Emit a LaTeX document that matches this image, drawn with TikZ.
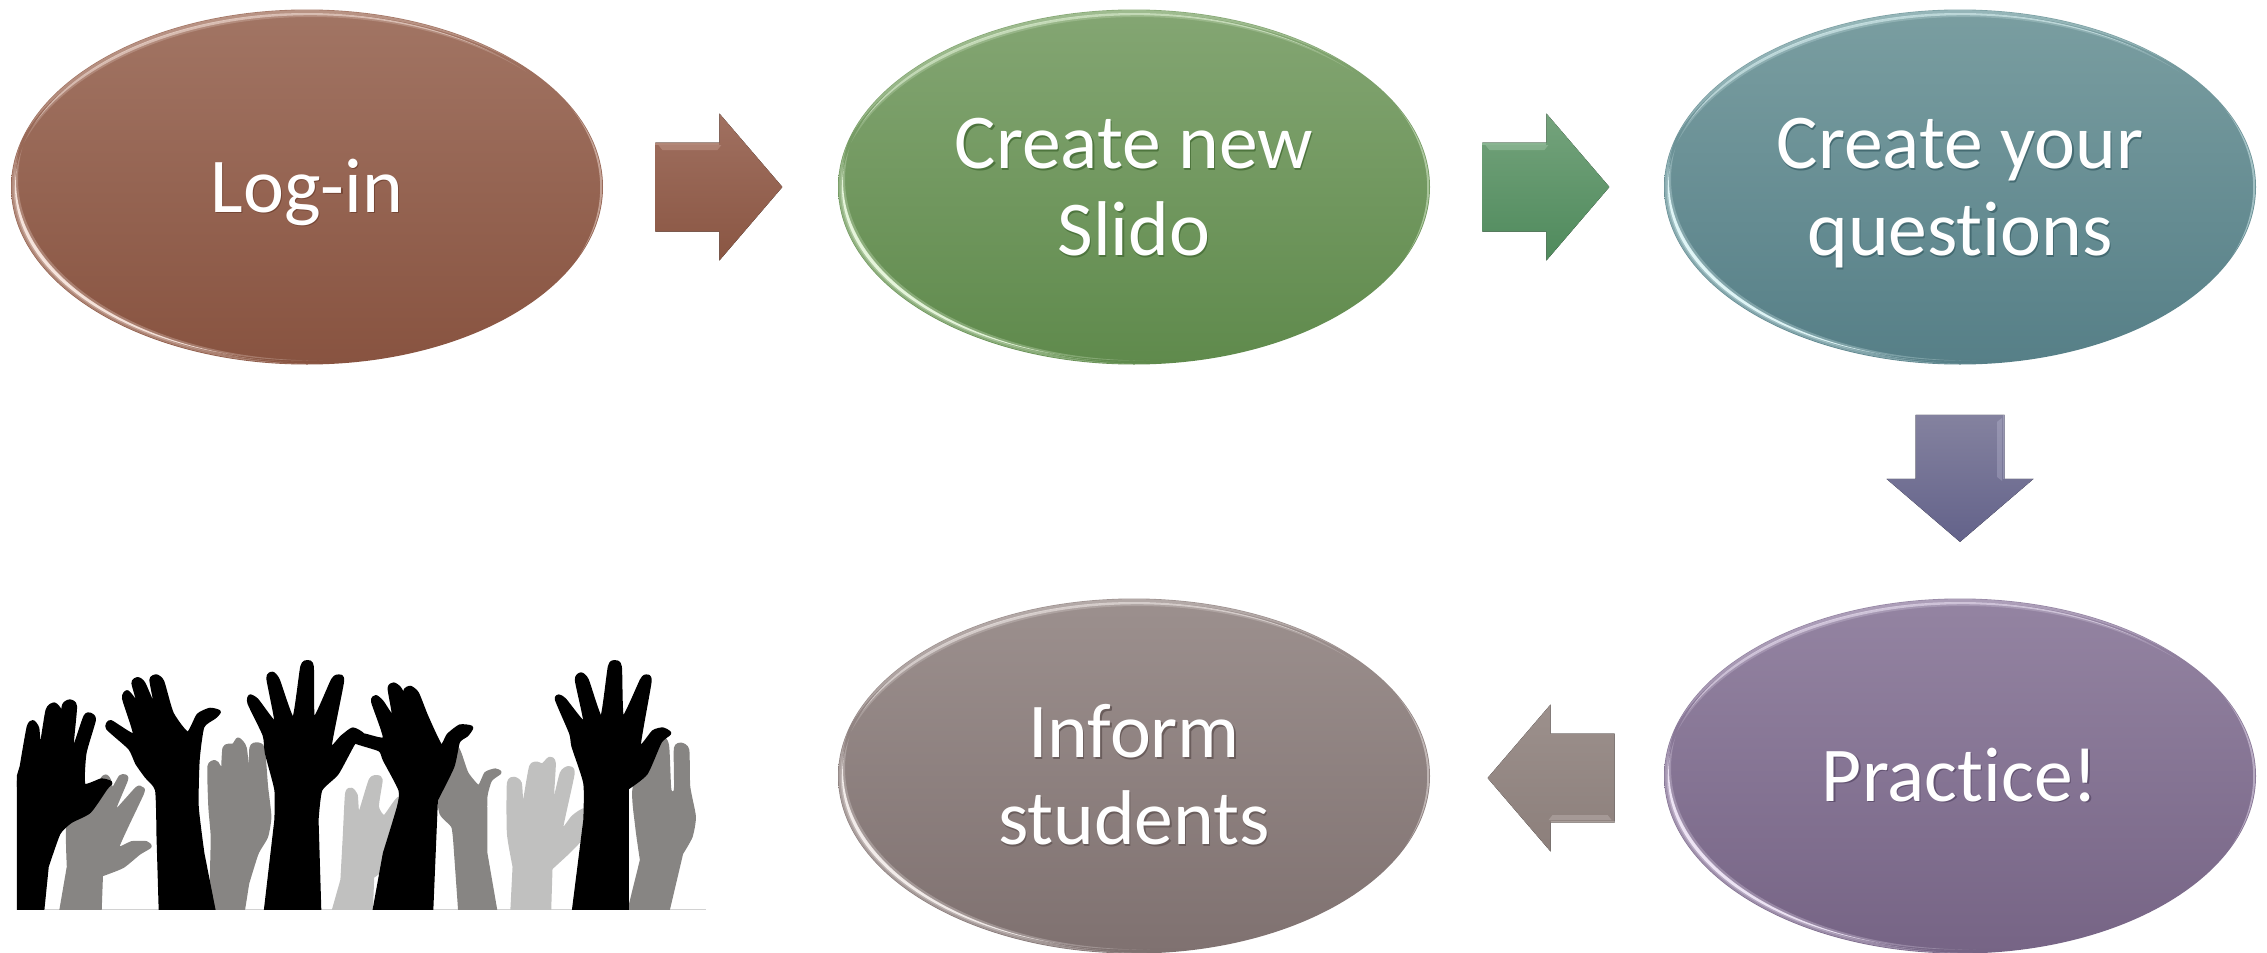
\documentclass[tikz,border=0pt]{standalone}
\usepackage{fontspec}
\setmainfont[Ligatures=NoCommon]{Carlito}
\usetikzlibrary{calc,shapes.geometric}
\definecolor{ATa}{HTML}{A27564}\definecolor{ABa}{HTML}{885340}\definecolor{ASa}{HTML}{6E4232}\definecolor{AHa}{HTML}{FDEDE6}
\definecolor{ATb}{HTML}{84A673}\definecolor{ABb}{HTML}{5F8A4C}\definecolor{ASb}{HTML}{476C38}\definecolor{AHb}{HTML}{EEFCE4}
\definecolor{ATc}{HTML}{7A9EA1}\definecolor{ABc}{HTML}{567F87}\definecolor{ASc}{HTML}{3E6269}\definecolor{AHc}{HTML}{E8FDFE}
\definecolor{ATd}{HTML}{9484A2}\definecolor{ABd}{HTML}{766485}\definecolor{ASd}{HTML}{5A4A68}\definecolor{AHd}{HTML}{F5ECFC}
\definecolor{ATe}{HTML}{9C908E}\definecolor{ABe}{HTML}{7F7170}\definecolor{ASe}{HTML}{615554}\definecolor{AHe}{HTML}{FAF4F2}
\definecolor{handgray}{HTML}{878583}\definecolor{handlight}{HTML}{C0C0BF}
\tikzset{
  x=0.5pt,y=-0.5pt,
  oval/.style={ellipse,inner sep=0pt,minimum width=296pt,minimum height=177.5pt,align=center,text=white,
    font=\fontsize{38.8}{43.5}\selectfont,top color=AT#1,bottom color=AB#1},
  hand/.style={fill=#1,draw=#1,line width=1.6pt,line join=round},
  fingers/.style={smooth,tension=0.35},
}
% text line with its soft drop shadow
\newcommand\stx[2]{\leavevmode\rule[-9.25pt]{0pt}{43.5pt}\rlap{\raisebox{-0.8pt}{\kern0.6pt\textcolor{AS#1!70!AB#1}{#2}}}#2}
% lit crescent along the rim of an oval: node, x and y offset, growth of the cut-out, inset, opacity, colour letter
\newcommand\rimlight[7]{%
  \begin{scope}
    \clip (#1.center) ellipse ({296-#5} and {177.5-#5});
    \fill[AH#7,opacity=#6,even odd rule] ($(#1.center)+(-320,-200)$) rectangle ($(#1.center)+(320,200)$)
      ($(#1.center)+(#2,#3)$) ellipse ({296-#5+#4} and {177.5-#5+#4});
  \end{scope}}
\newcommand\bevel[2]{%
  % lower left
  \rimlight{#1}{10}{-7}{7}{0.6}{0.28}{#2}
  \rimlight{#1}{9}{-6.5}{7}{2.5}{0.3}{#2}
  \rimlight{#1}{11}{-8}{8}{4}{0.25}{#2}
  \rimlight{#1}{9}{-6.5}{8}{4}{0.85}{#2}
  % top
  \rimlight{#1}{3.2}{12}{9}{0.6}{0.25}{#2}
  \rimlight{#1}{4}{14}{10}{3.5}{0.2}{#2}
  \rimlight{#1}{3.2}{12}{9.8}{3.5}{0.5}{#2}
  % right
  \rimlight{#1}{-12}{0.5}{10}{0.8}{0.45}{#2}
}
% block arrow: origin (middle of tail), rotation, colour letter
\newcommand\blockarrow[3]{%
  \begin{scope}[shift={(#1)},rotate=#2]
    \fill[top color=#3a,bottom color=#3b] (0,-44.5) -- (64,-44.5) -- (64,-73.5) -- (127,0) -- (64,73.5) -- (64,44.5) -- (0,44.5) -- cycle;
    \fill[#3h,opacity=.3] (0,-44.5) -- (64,-44.5) -- (64,-42.5) -- (0,-42.5) -- cycle;
    \fill[#3h,opacity=.25] (3,-42) -- (66,-42) -- (62,-37) -- (7,-37) -- cycle;
  \end{scope}}
\definecolor{Ga}{HTML}{A07060}\definecolor{Gb}{HTML}{8A5643}\definecolor{Gh}{HTML}{E8C8BC}
\definecolor{Ha}{HTML}{74A37C}\definecolor{Hb}{HTML}{4F8A5C}\definecolor{Hh}{HTML}{CDEBD2}
\definecolor{Ia}{HTML}{84829F}\definecolor{Ib}{HTML}{63628A}\definecolor{Ih}{HTML}{D5D5EA}
\definecolor{Ja}{HTML}{9C908C}\definecolor{Jb}{HTML}{8C7F7B}\definecolor{Jh}{HTML}{E5DDDB}
\begin{document}
\begin{tikzpicture}
\useasboundingbox (0,0) rectangle (2267,953);
% ovals
\node[oval=a] (login)   at (307,187)  {\stx{a}{Log-in}};
\node[oval=b] (create)  at (1134,187) {\stx{b}{Create new}\\\stx{b}{Slido}};
\node[oval=c] (quest)   at (1960,187) {\stx{c}{Create your}\\\stx{c}{questions}};
\node[oval=d] (prac)    at (1960,776) {\stx{d}{Practice!}};
\node[oval=e] (inform)  at (1134,776) {\stx{e}{Inform}\\\stx{e}{students}};
\bevel{login}{a}\bevel{create}{b}\bevel{quest}{c}\bevel{prac}{d}\bevel{inform}{e}
% arrows
\coordinate (a1) at ($(login.east)+(52,0)$);
\coordinate (a2) at ($(create.east)+(52,0)$);
\coordinate (a3) at ($(quest.south)+(0,50)$);
\coordinate (a4) at ($(prac.west)+(-49,2)$);
\blockarrow{a1}{0}{G}
\blockarrow{a2}{0}{H}
\blockarrow{a3}{-90}{I}
\blockarrow{a4}{180}{J}
% raised hands
\begin{scope}[shift={(0,620)},xscale=0.4717,yscale=0.3333]
\draw[gray!35,line width=0.5pt] (90,868) -- (1497,868);
\clip (36,0) rectangle (1500,868);
% grey hands
\filldraw[hand=handgray] (128,880) -- plot[fingers] coordinates {(145,740) (145,600) (190,580) (215,480) (225,468) (232,480) (238,510) (255,470) (265,468) (268,480) (240,580) (290,505) (300,505) (302,520) (250,680) (280,668) (310,668) (318,680) (295,700) (260,740) (215,765)} -- (212,880) -- cycle;
\filldraw[hand=handgray] (450,880) -- plot[fingers] coordinates {(448,780) (450,650) (445,560) (443,440) (455,425) (465,440) (470,520) (475,385) (495,375) (505,357) (520,385) (530,520) (532,385) (545,372) (558,385) (565,500) (572,590) (565,650) (545,700) (525,790)} -- (515,880) -- cycle;
\filldraw[hand=handgray] (975,880) -- plot[fingers] coordinates {(965,680) (960,620) (935,580) (930,500) (965,385) (975,400) (990,460) (1015,500) (1030,460) (1050,450) (1060,458) (1040,480) (1030,530) (1030,620) (1030,700)} -- (1052,880) -- cycle;
\filldraw[hand=handgray] (1332,880) -- plot[fingers] coordinates {(1360,720) (1350,620) (1345,500) (1400,360) (1415,375) (1420,510) (1432,510) (1432,385) (1445,373) (1458,390) (1460,500) (1472,590) (1465,650) (1445,700)} -- (1415,880) -- cycle;
% light hands
\filldraw[hand=handlight] (705,880) -- plot[fingers] coordinates {(725,780) (730,650) (735,520) (745,508) (755,525) (760,590) (785,480) (800,470) (808,480) (800,560) (815,590) (848,535) (848,700) (800,760) (790,770)} -- (787,880) -- cycle;
\filldraw[hand=handlight] (1085,880) -- plot[fingers] coordinates {(1090,740) (1078,640) (1078,490) (1090,475) (1103,490) (1108,570) (1125,440) (1140,430) (1150,435) (1165,415) (1175,430) (1170,570) (1190,460) (1205,443) (1215,460) (1190,630) (1215,590) (1240,570) (1240,640) (1210,690) (1168,745)} -- (1165,880) -- cycle;
% black hands
\filldraw[hand=black] (30,880) -- (30,510) -- plot[fingers] coordinates {(45,440) (60,320) (70,305) (80,325) (85,395) (100,270) (115,252) (127,270) (128,322) (135,255) (148,243) (160,260) (152,400) (180,290) (192,283) (200,300) (180,400) (178,495) (215,480) (235,488) (225,505) (190,575) (150,605) (125,640) (100,740)} -- (90,880) -- cycle;
\filldraw[hand=black] (340,880) -- plot[fingers] coordinates {(335,640) (332,510) (310,470) (290,430) (275,385) (228,325) (235,305) (285,345) (262,235) (270,215) (285,240) (300,280) (282,190) (292,176) (305,190) (332,275) (320,180) (332,168) (345,185) (365,280) (398,340) (420,285) (445,268) (465,275) (455,292) (430,320) (420,420) (418,560) (430,700)} -- (455,880) -- cycle;
\filldraw[hand=black] (562,880) -- plot[fingers] coordinates {(585,600) (585,510) (565,400) (560,345) (528,250) (530,228) (545,240) (585,310) (568,175) (578,160) (590,180) (622,298) (640,140) (652,125) (662,140) (665,298) (705,180) (718,168) (726,185) (700,380) (725,350) (748,327) (770,345) (750,370) (715,460) (680,510) (672,600)} -- (678,880) -- cycle;
\filldraw[hand=black] (792,880) -- plot[fingers] coordinates {(815,700) (845,560) (848,510) (815,420) (805,390) (752,365) (770,345) (815,355) (790,245) (797,230) (810,245) (835,295) (825,205) (835,192) (850,210) (870,295) (858,215) (870,202) (885,220) (905,290) (935,378) (950,345) (975,318) (1000,322) (990,345) (972,365) (960,440) (925,540)} -- (915,880) -- cycle;
\filldraw[hand=black] (1215,880) -- plot[fingers] coordinates {(1240,600) (1240,490) (1215,380) (1210,340) (1180,240) (1185,228) (1198,240) (1240,310) (1222,180) (1232,162) (1245,180) (1275,295) (1292,140) (1303,125) (1315,140) (1320,295) (1360,180) (1370,168) (1378,185) (1355,380) (1385,335) (1405,327) (1420,340) (1400,365) (1370,460) (1330,505)} -- (1330,880) -- cycle;
\end{scope}
\end{tikzpicture}
\end{document}
